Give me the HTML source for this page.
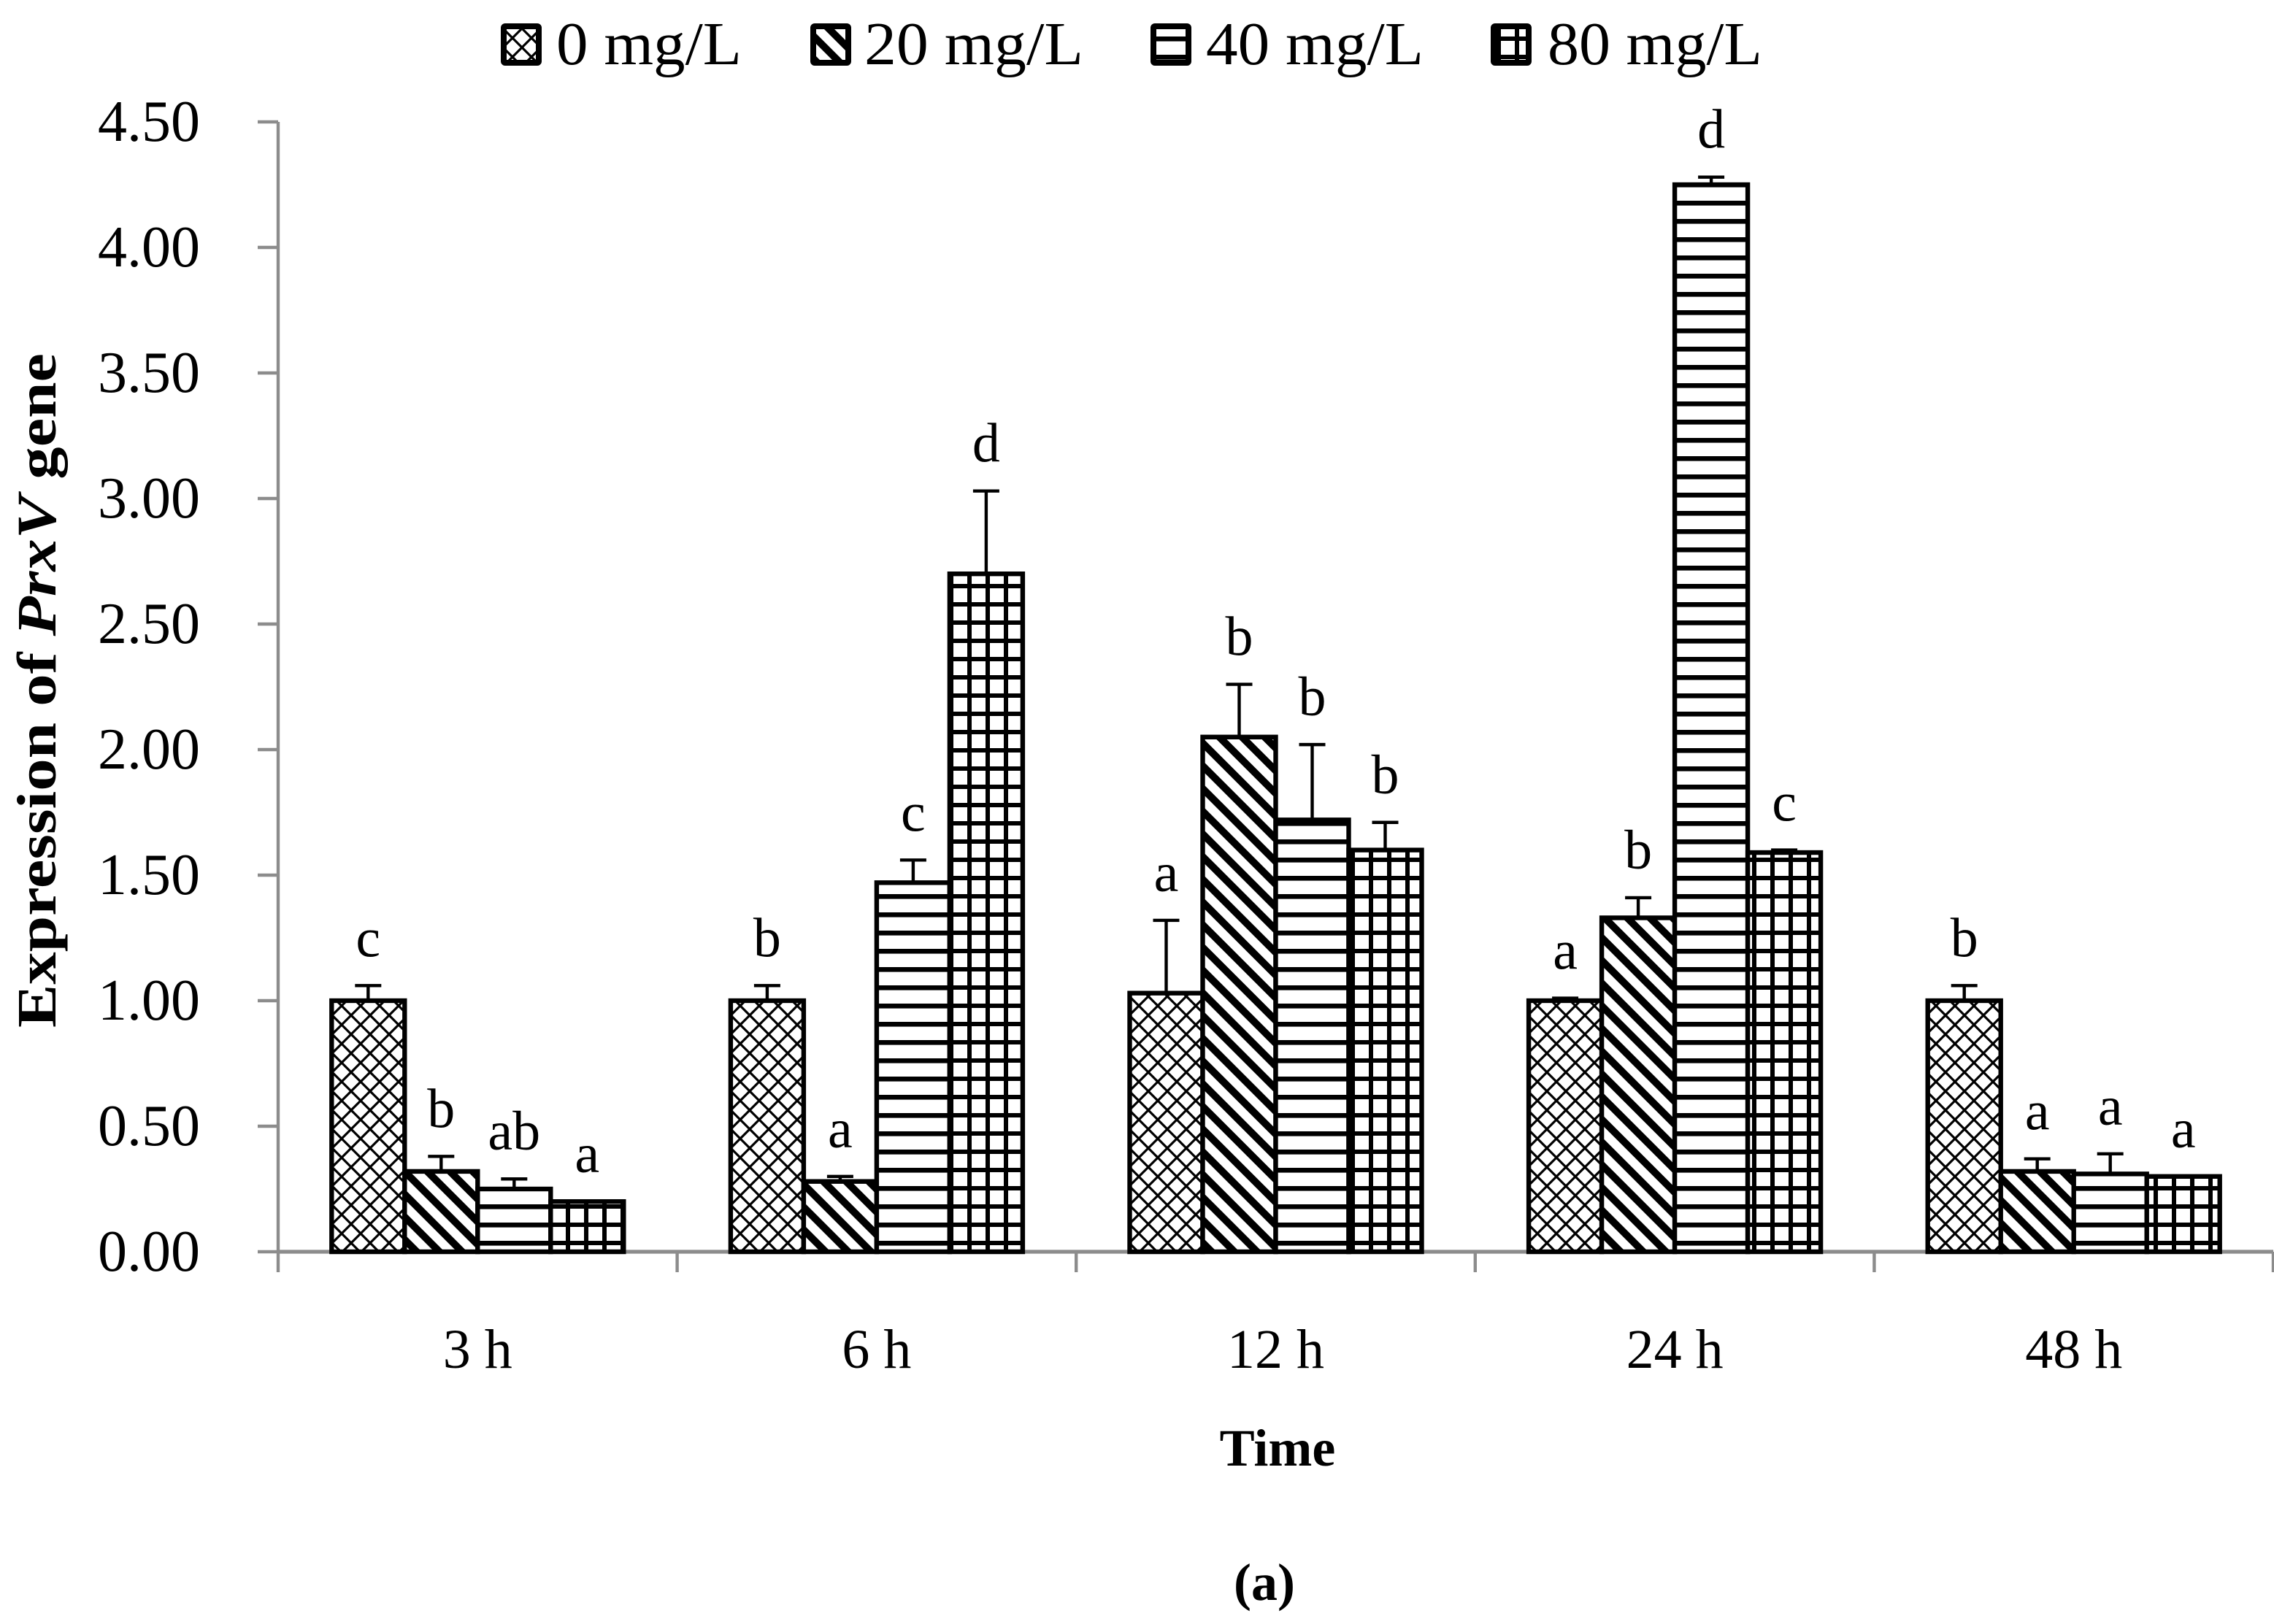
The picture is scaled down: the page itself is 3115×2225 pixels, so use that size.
<!DOCTYPE html>
<html><head><meta charset="utf-8"><style>
html,body{margin:0;padding:0;background:#fff;}
svg{display:block;}
text{font-family:"Liberation Serif",serif;fill:#000;}
</style></head><body>
<svg id="chart" width="3115" height="2225" viewBox="0 0 1557.5 1112.5" xmlns="http://www.w3.org/2000/svg">
<defs>
<pattern id="p0" patternUnits="userSpaceOnUse" width="13" height="13">
  <rect width="13" height="13" fill="#fff"/>
  <path d="M0,0 L13,13 M13,0 L0,13" stroke="#000" stroke-width="1.6"/>
</pattern>
<pattern id="p1" patternUnits="userSpaceOnUse" width="11" height="11" patternTransform="rotate(-45)">
  <rect width="11" height="11" fill="#fff"/>
  <rect x="0" y="0" width="5" height="11" fill="#000"/>
</pattern>
<pattern id="p2" patternUnits="userSpaceOnUse" width="12.5" height="12.5">
  <rect width="12.5" height="12.5" fill="#fff"/>
  <rect x="0" y="0" width="12.5" height="3.3" fill="#000"/>
</pattern>
<pattern id="p3" patternUnits="userSpaceOnUse" width="12.5" height="12.5">
  <rect width="12.5" height="12.5" fill="#fff"/>
  <rect x="0" y="0" width="12.5" height="3" fill="#000"/>
  <rect x="0" y="0" width="3" height="12.5" fill="#000"/>
</pattern>
</defs>
<g id="legend"></g>
<g id="axes"></g>
<g id="bars"></g>
<text transform="translate(38,473) rotate(-90)" text-anchor="middle" font-size="38" font-weight="bold" textLength="462" lengthAdjust="spacingAndGlyphs">Expression of <tspan font-style="italic">PrxV</tspan> gene</text>
<text x="875" y="1004" text-anchor="middle" font-size="36" font-weight="bold">Time</text>
<text x="866" y="1096" text-anchor="middle" font-size="36" font-weight="bold">(a)</text>
</svg>
<script>
const categories = ["3 h","6 h","12 h","24 h","48 h"];
const seriesNames = ["0 mg/L","20 mg/L","40 mg/L","80 mg/L"];
const s0 = [1.00, 1.00, 1.03, 1.00, 1.00];
const s1 = [0.32, 0.28, 2.05, 1.33, 0.32];
const s2 = [0.25, 1.47, 1.72, 4.25, 0.31];
const s3 = [0.20, 2.70, 1.60, 1.59, 0.30];
const e0 = [0.06, 0.06, 0.29, 0.01, 0.06];
const e1 = [0.06, 0.02, 0.21, 0.08, 0.05];
const e2 = [0.04, 0.09, 0.30, 0.03, 0.08];
const e3 = [0.00, 0.33, 0.11, 0.01, 0.00];
const l0 = ["c","b","a","a","b"];
const l1 = ["b","a","b","b","a"];
const l2 = ["ab","c","b","d","a"];
const l3 = ["a","d","b","c","a"];
const yTicks = [0,0.5,1,1.5,2,2.5,3,3.5,4,4.5];
const yTickLabels = ["0.00","0.50","1.00","1.50","2.00","2.50","3.00","3.50","4.00","4.50"];

const NS="http://www.w3.org/2000/svg";
const X0=190.5, X1=1557, Y0=857.5, PER=172;
const GW=(X1-X0)/categories.length, BW=50;
function y(v){return Y0-v*PER;}
function xBar(ci,si){return X0+ci*GW+(GW-4*BW)/2+si*BW;}
function mk(tag,attrs,parent){const e=document.createElementNS(NS,tag);for(const k in attrs)e.setAttribute(k,attrs[k]);parent.appendChild(e);return e;}

const axes=document.getElementById('axes');
const bars=document.getElementById('bars');
const legend=document.getElementById('legend');
const yAxis=mk('line',{x1:X0,y1:y(4.5),x2:X0,y2:Y0,stroke:'#8c8c8c','stroke-width':2.2},axes);


yTicks.forEach((t,i)=>{
  mk('line',{x1:X0-14,y1:y(t),x2:X0,y2:y(t),stroke:'#8c8c8c','stroke-width':2.2},axes);
  const tx=mk('text',{x:137,y:y(t)+13,'text-anchor':'end','font-size':40},axes);
  tx.textContent=yTickLabels[i];
  
  
});
const series=[s0,s1,s2,s3], errs=[e0,e1,e2,e3], lets=[l0,l1,l2,l3];
categories.forEach((c,ci)=>{
  const tx=mk('text',{x:X0+(ci+0.5)*GW,y:937,'text-anchor':'middle','font-size':38},axes);
  tx.textContent=c;
  
  
  series.forEach((s,si)=>{
    const v=s[ci], x=xBar(ci,si);
    const r=mk('rect',{x:x,y:y(v),width:BW,height:Y0-y(v),fill:'url(#p'+si+')',stroke:'#000','stroke-width':3.2},bars);
    
    
    const top=y(v+errs[si][ci]);
    const eb=mk('path',{d:`M${x+BW/2},${y(v)} V${top} M${x+BW/2-9},${top} H${x+BW/2+9}`,stroke:'#000','stroke-width':2.2,fill:'none'},bars);
    
    
    const lt=mk('text',{x:x+BW/2,y:top-20,'text-anchor':'middle','font-size':38},bars);
    lt.textContent=lets[si][ci];
    
    
  });
});
for(let i=0;i<=categories.length;i++){
  mk('line',{x1:X0+i*GW,y1:Y0,x2:X0+i*GW,y2:Y0+14,stroke:'#8c8c8c','stroke-width':2.2},axes);
}
const xAxis=mk('line',{x1:X0,y1:Y0,x2:X1,y2:Y0,stroke:'#8c8c8c','stroke-width':2.6},axes);



const legBox=[343,555,788,1021];
const legText=[381,592,826,1060];
const legW=[127,150,149,147];
seriesNames.forEach((n,i)=>{
  const g=mk('g',{},legend);
  
  
  mk('rect',{x:legBox[i]+2,y:18,width:24,height:25,fill:'url(#p'+i+')',stroke:'#000','stroke-width':4,rx:1},g);
  const t=mk('text',{x:legText[i],y:44,'font-size':42,textLength:legW[i],lengthAdjust:'spacingAndGlyphs'},g);
  t.textContent=n;
});
</script>
</body></html>
